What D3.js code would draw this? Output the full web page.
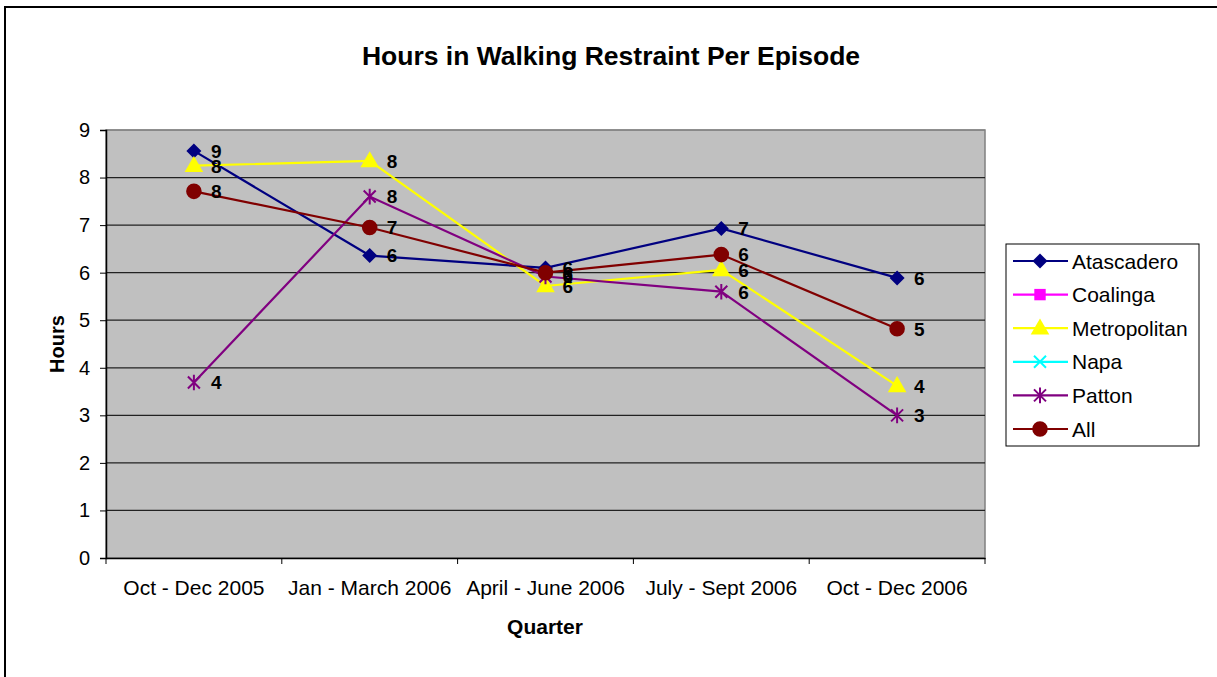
<!DOCTYPE html>
<html>
<head>
<meta charset="utf-8">
<script src="https://cdn.jsdelivr.net/npm/d3@7/dist/d3.min.js"></script>
<style>
  body { margin: 0; background: #fff; }
  text { font-family: Arial, "Liberation Sans", sans-serif; }
</style>
</head>
<body>
<script>
var quarters = ["Oct - Dec 2005", "Jan - March 2006", "April - June 2006", "July - Sept 2006", "Oct - Dec 2006"];
var seriesNames = ["Atascadero", "Coalinga", "Metropolitan", "Napa", "Patton", "All"];
var seriesColors = ["#000080", "#FF00FF", "#FFFF00", "#00FFFF", "#800080", "#800000"];
var seriesSymbols = ["diamond", "square", "triangle", "x", "star", "circle"];

// hours per episode (null = no data)
var atascadero   = [8.56, 6.36, 6.10, 6.93, 5.89];
var coalinga     = [null, null, null, null, null];
var metropolitan = [8.25, 8.35, 5.72, 6.06, 3.62];
var napa         = [null, null, null, null, null];
var patton       = [3.69, 7.60, 5.92, 5.60, 3.00];
var all          = [7.71, 6.95, 6.00, 6.38, 4.82];

var yTicks = [0, 1, 2, 3, 4, 5, 6, 7, 8, 9];

var seriesValues = [atascadero, coalinga, metropolitan, napa, patton, all];

var width = 1217, height = 677;
var plot = {left: 106, right: 985, top: 130, bottom: 558};

var svg = d3.select("body").append("svg")
  .attr("width", width)
  .attr("height", height);

// outer frame (runs off the right and bottom edge)
svg.append("rect")
  .attr("x", 5).attr("y", 7)
  .attr("width", width + 20).attr("height", height + 20)
  .attr("fill", "#fff")
  .attr("stroke", "#000")
  .attr("stroke-width", 2);

var x = d3.scaleBand()
  .domain(quarters)
  .range([plot.left, plot.right]);

var y = d3.scaleLinear()
  .domain([0, 9])
  .range([plot.bottom, plot.top]);

// plot area
svg.append("rect")
  .attr("x", plot.left).attr("y", plot.top)
  .attr("width", plot.right - plot.left)
  .attr("height", plot.bottom - plot.top)
  .attr("fill", "#C0C0C0")
  .attr("stroke", "#808080")
  .attr("stroke-width", 1.5);

// gridlines
svg.append("g")
  .selectAll("line")
  .data(yTicks.filter(function(d) { return d > 0; }))
  .enter().append("line")
  .attr("x1", plot.left).attr("x2", plot.right)
  .attr("y1", function(d) { return y(d); })
  .attr("y2", function(d) { return y(d); })
  .attr("stroke", function(d) { return d == 9 ? "#808080" : "#222"; })
  .attr("stroke-width", 1.2);

// y axis
var yAxis = svg.append("g")
  .attr("transform", "translate(" + plot.left + ",0)")
  .call(d3.axisLeft(y).tickValues(yTicks).tickSize(6).tickPadding(10).tickFormat(d3.format("d")));
yAxis.select(".domain").attr("stroke", "#000").attr("stroke-width", 1.5);
yAxis.selectAll(".tick line").attr("stroke", "#000");
yAxis.selectAll("text").attr("font-size", 20).attr("fill", "#000")
  .style("font-family", "Arial, 'Liberation Sans', sans-serif");

// x axis, ticks on the category boundaries
var xAxis = svg.append("g")
  .attr("transform", "translate(0," + plot.bottom + ")")
  .call(d3.axisBottom(x).tickSize(0).tickPadding(22));
xAxis.select(".domain").attr("stroke", "#000").attr("stroke-width", 1.5);
xAxis.selectAll("text").attr("font-size", 21).attr("fill", "#000")
  .style("font-family", "Arial, 'Liberation Sans', sans-serif");
xAxis.selectAll(".bound")
  .data(quarters.concat(["end"]))
  .enter().append("line")
  .attr("class", "bound")
  .attr("x1", function(d, i) { return plot.left + i * x.step(); })
  .attr("x2", function(d, i) { return plot.left + i * x.step(); })
  .attr("y1", 0).attr("y2", 6)
  .attr("stroke", "#000");

// titles
svg.append("text")
  .attr("x", 611).attr("y", 65)
  .attr("text-anchor", "middle")
  .attr("font-size", 26.5).attr("font-weight", "bold")
  .text("Hours in Walking Restraint Per Episode");

svg.append("text")
  .attr("x", 545).attr("y", 634)
  .attr("text-anchor", "middle")
  .attr("font-size", 21).attr("font-weight", "bold")
  .text("Quarter");

svg.append("text")
  .attr("transform", "translate(64,344) rotate(-90)")
  .attr("text-anchor", "middle")
  .attr("font-size", 20).attr("font-weight", "bold")
  .text("Hours");

function symbolPath(kind, s) {
  if (kind == "star") {
    return "M" + (-s) + "," + (-s) + "L" + s + "," + s +
           "M" + (-s) + "," + s + "L" + s + "," + (-s) +
           "M0," + (-s * 1.3) + "L0," + (s * 1.3);
  }
  if (kind == "x") {
    return "M" + (-s) + "," + (-s) + "L" + s + "," + s +
           "M" + (-s) + "," + s + "L" + s + "," + (-s);
  }
  if (kind == "diamond") {
    var r = s + 1.5;
    return "M0," + (-r) + "L" + r + ",0L0," + r + "L" + (-r) + ",0Z";
  }
  var t = {square: d3.symbolSquare, triangle: d3.symbolTriangle, circle: d3.symbolCircle}[kind];
  var area = {square: 130, triangle: 150, circle: 190}[kind];
  return d3.symbol().type(t).size(area)();
}

function drawMarker(g, kind, color, cx, cy) {
  var open = (kind == "star" || kind == "x");
  g.append("path")
    .attr("transform", "translate(" + cx + "," + cy + ")" + (kind == "triangle" ? " translate(0,1)" : ""))
    .attr("d", symbolPath(kind, 6))
    .attr("fill", open ? "none" : color)
    .attr("stroke", color)
    .attr("stroke-width", open ? 2 : 0);
}

var line = d3.line()
  .defined(function(d) { return d != null; })
  .x(function(d, i) { return x(quarters[i]) + x.bandwidth() / 2; })
  .y(function(d) { return y(d); });

var marks = svg.append("g");
seriesValues.forEach(function(vals, si) {
  var g = marks.append("g");
  g.append("path")
    .attr("d", line(vals))
    .attr("fill", "none")
    .attr("stroke", seriesColors[si])
    .attr("stroke-width", 2.2);
  vals.forEach(function(v, i) {
    if (v == null) return;
    drawMarker(g, seriesSymbols[si], seriesColors[si], x(quarters[i]) + x.bandwidth() / 2, y(v));
  });
});

// data labels on top
var labels = svg.append("g");
seriesValues.forEach(function(vals, si) {
  vals.forEach(function(v, i) {
    if (v == null) return;
    labels.append("text")
      .attr("x", x(quarters[i]) + x.bandwidth() / 2 + 17)
      .attr("y", y(v))
      .attr("dy", "0.36em")
      .attr("font-size", 19).attr("font-weight", "bold")
      .text(Math.round(v));
  });
});

// legend
var legend = svg.append("g");
legend.append("rect")
  .attr("x", 1006).attr("y", 244)
  .attr("width", 193).attr("height", 202)
  .attr("fill", "#fff")
  .attr("stroke", "#000")
  .attr("stroke-width", 1);

var ly = d3.scalePoint().domain(seriesNames).range([261, 429]);
seriesNames.forEach(function(name, si) {
  var g = legend.append("g");
  g.append("line")
    .attr("x1", 1013).attr("x2", 1068)
    .attr("y1", ly(name)).attr("y2", ly(name))
    .attr("stroke", seriesColors[si])
    .attr("stroke-width", 2.2);
  drawMarker(g, seriesSymbols[si], seriesColors[si], 1040, ly(name));
  g.append("text")
    .attr("x", 1072).attr("y", ly(name))
    .attr("dy", "0.36em")
    .attr("font-size", 21)
    .text(name);
});
</script>
</body>
</html>
